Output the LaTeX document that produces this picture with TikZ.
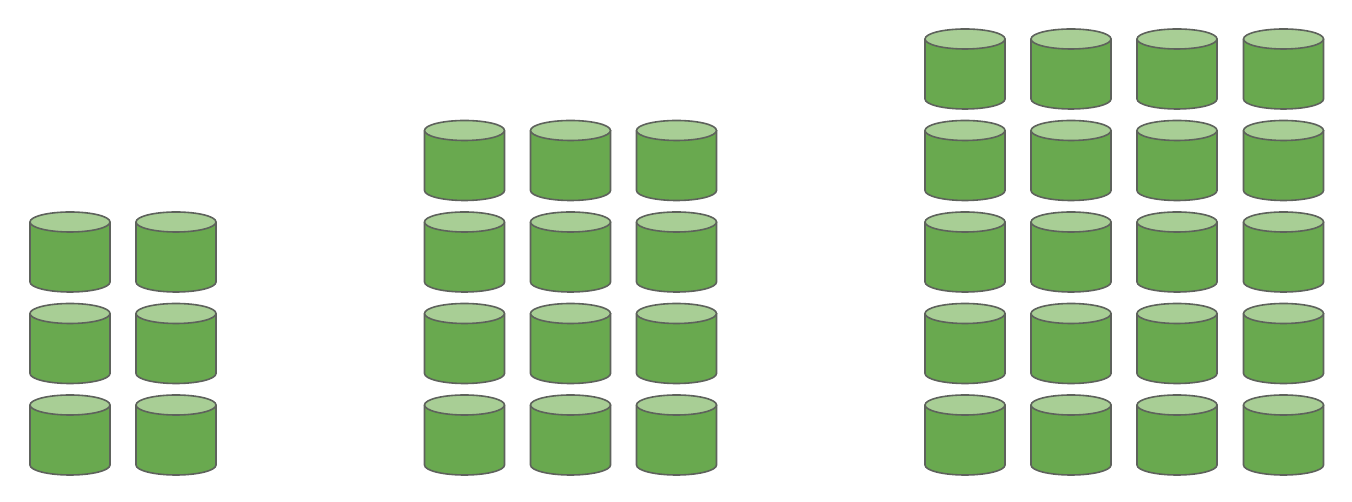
\documentclass[tikz,border=0pt]{standalone}
\definecolor{drumbody}{HTML}{69A94F}
\definecolor{drumtop}{HTML}{A8CE95}
\definecolor{drumline}{HTML}{5E625C}
\tikzset{
  drumedge/.style={draw=drumline,line width=1.2pt,line join=round},
  drum/.pic={
    \filldraw[drumedge,fill=drumbody] (-40,0) -- (-40,-60) arc (180:360:40 and 10) -- (40,0) -- cycle;
    \filldraw[drumedge,fill=drumtop] (0,0) ellipse (40 and 10);
  }
}
\begin{document}
\begin{tikzpicture}[x=0.75pt,y=0.75pt]
    \useasboundingbox (0,0) rectangle (1352,502);
	% left stack
	\foreach \x in {70,176}
	  \foreach \y in {97,188.5,280}
	    \pic at (\x,\y) {drum};
	% middle stack
	\foreach \x in {464.5,570.5,676.5}
	  \foreach \y in {97,188.5,280,371.5}
	    \pic at (\x,\y) {drum};
	% right stack
	\foreach \x in {965,1071,1177,1283.5}
	  \foreach \y in {97,188.5,280,371.5,463}
	    \pic at (\x,\y) {drum};
\end{tikzpicture}
\end{document}
